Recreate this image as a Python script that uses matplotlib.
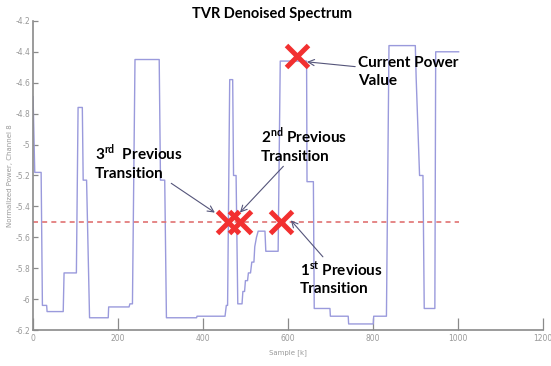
import numpy as np
import matplotlib
matplotlib.use("Agg")
import matplotlib.pyplot as plt
from matplotlib.ticker import FormatStrFormatter

plt.rcParams['font.family'] = ['Lato', 'DejaVu Sans']
plt.rcParams['mathtext.fontset'] = 'custom'
plt.rcParams['mathtext.rm'] = 'Lato'
plt.rcParams['mathtext.bf'] = 'Lato:bold'

# denoised spectrum (step vertices: sample index, normalized power)
sample = [0, 4, 19, 22, 32, 33, 71, 73, 102, 106, 116, 118, 126, 133, 177, 178,
          226, 228, 234, 240, 297, 300, 310, 314, 385, 386, 452, 455, 458, 463,
          470, 472, 478, 482, 492, 494, 498, 500, 505, 507, 512, 515, 520, 522,
          526, 530, 546, 548, 577, 582, 644, 645, 660, 662, 699, 700, 742, 743,
          801, 802, 832, 838, 900, 902, 910, 918, 921, 946, 948, 1002]
power = [-4.69, -5.18, -5.18, -6.04, -6.04, -6.08, -6.08, -5.83, -5.83, -4.76,
         -4.76, -5.23, -5.23, -6.12, -6.12, -6.05, -6.05, -6.03, -6.03, -4.45,
         -4.45, -5.23, -5.23, -6.12, -6.12, -6.11, -6.11, -6.04, -6.04, -4.58,
         -4.58, -5.20, -5.20, -6.03, -6.03, -5.95, -5.95, -5.88, -5.88, -5.83,
         -5.83, -5.76, -5.76, -5.66, -5.60, -5.56, -5.56, -5.69, -5.69, -4.46,
         -4.46, -5.24, -5.24, -6.06, -6.06, -6.11, -6.11, -6.16, -6.16, -6.11,
         -6.11, -4.36, -4.36, -4.57, -5.20, -5.20, -6.06, -6.06, -4.40, -4.40]

threshold = -5.5
threshold_span = [0, 1004]

# transition markers
trans_x = [459, 487, 583]
trans_y = [-5.5, -5.5, -5.5]
current_x = [621]
current_y = [-4.43]

fig = plt.figure(figsize=(5.51, 3.66), dpi=100)
ax = fig.add_axes([0.060, 0.098, 0.925, 0.845])

ax.plot(sample, power, color='#9a9adc', linewidth=1.0)
ax.plot(threshold_span, [threshold, threshold], color='#e07272',
        linewidth=1.2, dashes=(3, 2.5))
ax.plot(trans_x, trans_y, linestyle='none', marker='x', markersize=16,
        markeredgewidth=3.6, color='#f23030')
ax.plot(current_x, current_y, linestyle='none', marker='x', markersize=16,
        markeredgewidth=3.6, color='#f23030')

ax.set_xlim(0, 1200)
ax.set_ylim(-6.2, -4.2)
ax.set_xticks(np.arange(0, 1201, 200))
ax.set_yticks(np.arange(-6.2, -4.19, 0.2))
ax.yaxis.set_major_formatter(FormatStrFormatter('%g'))
ax.spines['top'].set_visible(False)
ax.spines['right'].set_visible(False)
for s in ['left', 'bottom']:
    ax.spines[s].set_color('#8a8a8a')
    ax.spines[s].set_linewidth(1.2)
ax.tick_params(axis='x', direction='in', length=9, width=0.9, colors='#8a8a8a',
               labelsize=5.5, labelcolor='#999999', pad=3)
ax.tick_params(axis='y', direction='in', length=3.5, width=0.9, colors='#8a8a8a',
               labelsize=5.5, labelcolor='#999999', pad=2)
for lab in ax.get_xticklabels() + ax.get_yticklabels():
    lab.set_family('DejaVu Sans')
ax.set_xlabel('Sample [k]', fontsize=5, color='#999999', family='DejaVu Sans', labelpad=4)
ax.set_ylabel('Normalized Power, Channel 8', fontsize=5, color='#999999',
              family='DejaVu Sans', labelpad=2)

fig.text(0.494, 0.962, 'TVR Denoised Spectrum', fontsize=10.5, fontweight='bold',
         ha='center', va='center')

arrow = dict(arrowstyle='->', color='#55557a', lw=0.8, shrinkA=0, shrinkB=0)
txt = dict(fontsize=11, fontweight='bold', ha='left', va='center', linespacing=1.3)

ax.annotate('Current Power\nValue', xy=(645, -4.465), xytext=(765, -4.53),
            arrowprops=arrow, **txt)
ax.annotate('2$^{\\mathbf{nd}}$ Previous\nTransition', xy=(487, -5.44),
            xytext=(536, -5.0), arrowprops=arrow, **txt)
ax.annotate('3$^{\\mathbf{rd}}$  Previous\nTransition', xy=(428, -5.44),
            xytext=(146, -5.11), arrowprops=arrow, **txt)
ax.annotate('1$^{\\mathbf{st}}$ Previous\nTransition', xy=(607, -5.49),
            xytext=(628, -5.86), arrowprops=arrow, **txt)

plt.savefig('out.png', dpi=100)
